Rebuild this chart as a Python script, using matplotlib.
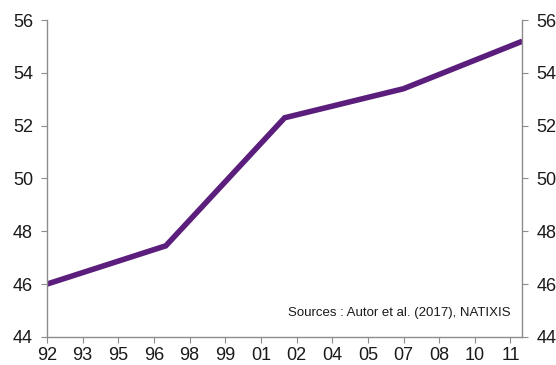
import matplotlib
matplotlib.use("Agg")
import matplotlib.pyplot as plt
import numpy as np

plt.rcParams['font.family'] = ['Liberation Sans', 'DejaVu Sans']

years = [1992, 1997, 2002, 2007, 2012]
values = [46.0, 47.45, 52.3, 53.4, 55.2]
xtick_pos = [1992 + 1.5 * i for i in range(14)]
xtick_labels = ["92", "93", "95", "96", "98", "99", "01", "02", "04", "05", "07", "08", "10", "11"]
yticks = [44, 46, 48, 50, 52, 54, 56]
source = "Sources : Autor et al. (2017), NATIXIS"

fig = plt.figure(figsize=(5.56, 3.65), dpi=100)
ax = fig.add_axes([0.0845, 0.077, 0.855, 0.868])
ax.plot(years, values, color="#5C1E7C", lw=4.0, solid_capstyle="butt", solid_joinstyle="miter")
ax.set_xlim(1992, 2012)
ax.set_ylim(44, 56)
ax.set_xticks(xtick_pos)
ax.set_xticklabels(xtick_labels)
ax.set_yticks(yticks)
ax.set_yticklabels([str(v) for v in yticks])

grey = "#8C8C8C"
for s in ["left", "right", "bottom"]:
    ax.spines[s].set_color(grey)
    ax.spines[s].set_linewidth(1.0)
ax.spines["top"].set_visible(False)
ax.tick_params(axis="both", direction="out", length=4, color=grey, labelsize=13, labelcolor="#1a1a1a")
ax.tick_params(axis="y", left=True, right=True, labelleft=True, labelright=True, pad=6)
ax.tick_params(axis="x", pad=3)

ax.text(0.975, 0.055, source, transform=ax.transAxes, ha="right", va="bottom", fontsize=9.5, color="#1a1a1a")

fig.savefig("out.png", dpi=100)
